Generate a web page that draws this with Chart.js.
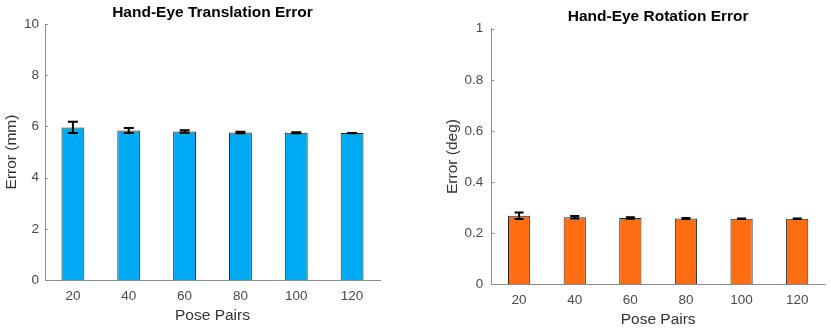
<!DOCTYPE html>
<html>
<head>
<meta charset="utf-8">
<script src="https://cdn.jsdelivr.net/npm/chart.js@4/dist/chart.umd.min.js"></script>
<style>
  html, body { margin: 0; padding: 0; background: #fff; }
  #wrap { position: relative; width: 831px; height: 336px; }
  .box { position: absolute; top: 0; height: 336px; }
</style>
</head>
<body>
<div id="wrap">
  <div class="box" style="left:0;width:415px;"><canvas id="c1" width="415" height="336"></canvas></div>
  <div class="box" style="left:415px;width:416px;"><canvas id="c2" width="416" height="336"></canvas></div>
</div>
<script>
const posePairs = ['20', '40', '60', '80', '100', '120'];
const transMean = [5.96, 5.84, 5.80, 5.76, 5.75, 5.74];
const transErr  = [0.22, 0.10, 0.05, 0.03, 0.02, 0.005];
const rotMean   = [0.268, 0.262, 0.259, 0.257, 0.256, 0.256];
const rotErr    = [0.013, 0.005, 0.003, 0.002, 0.001, 0.001];
const transTicks = [0, 2, 4, 6, 8, 10];
const rotTicks = [0, 0.2, 0.4, 0.6, 0.8, 1];

const FONT = "'Liberation Sans', Arial, sans-serif";
const TICK_COLOR = '#4a4a4a';
const AXIS_COLOR = '#8c8c8c';

const errorBars = {
  id: 'errorBars',
  afterDatasetsDraw(chart, args, opts) {
    const ctx = chart.ctx;
    const meta = chart.getDatasetMeta(0);
    const ys = chart.scales.y;
    const means = chart.data.datasets[0].data;
    const errs = opts.errors || [];
    ctx.save();
    ctx.strokeStyle = '#000';
    ctx.lineWidth = 2;
    meta.data.forEach((bar, i) => {
      const e = errs[i];
      if (e == null) return;
      const x = bar.x;
      const yt = ys.getPixelForValue(means[i] + e);
      const yb = ys.getPixelForValue(means[i] - e);
      const hw = opts.capHalf || 5;
      ctx.beginPath();
      ctx.moveTo(x, yt); ctx.lineTo(x, yb);
      ctx.moveTo(x - hw, yt); ctx.lineTo(x + hw, yt);
      ctx.moveTo(x - hw, yb); ctx.lineTo(x + hw, yb);
      ctx.stroke();
    });
    // small inward tick marks on the y axis (MATLAB style)
    ctx.strokeStyle = AXIS_COLOR;
    ctx.lineWidth = 1;
    ctx.beginPath();
    ys.ticks.forEach(t => {
      const y = Math.round(ys.getPixelForValue(t.value)) + 0.5;
      ctx.moveTo(ys.right, y); ctx.lineTo(ys.right + 3, y);
    });
    ctx.stroke();
    ctx.restore();
  }
};

function makeChart(id, cfg) {
  return new Chart(document.getElementById(id), {
    type: 'bar',
    data: {
      labels: posePairs,
      datasets: [{
        data: cfg.mean,
        backgroundColor: cfg.color,
        borderColor: '#262626',
        borderWidth: 1,
        barPercentage: cfg.barPct,
        categoryPercentage: 1
      }]
    },
    options: {
      responsive: false,
      animation: false,
      layout: { padding: { left: 0, right: cfg.padRight, top: 0, bottom: 0 } },
      plugins: {
        legend: { display: false },
        tooltip: { enabled: false },
        title: {
          display: true,
          text: cfg.title,
          fullSize: false,
          color: '#000',
          font: { family: FONT, size: 15.5, weight: 'bold' },
          padding: { top: cfg.titleTop, bottom: cfg.titleBottom }
        },
        errorBars: { errors: cfg.err, capHalf: cfg.capHalf }
      },
      scales: {
        x: {
          type: 'category',
          offset: true,
          grid: { display: false, drawTicks: false },
          border: { display: true, color: AXIS_COLOR, width: 1 },
          ticks: { color: TICK_COLOR, font: { family: FONT, size: 13.5 }, padding: 8, maxRotation: 0 },
          title: {
            display: true, text: 'Pose Pairs', color: '#333',
            font: { family: FONT, size: 15.5 },
            padding: { top: 0, bottom: cfg.xTitleBottom }
          },
          afterFit(s) { s.height = cfg.xAxisH; }
        },
        y: {
          min: 0, max: cfg.max,
          grid: { display: false, drawTicks: false },
          border: { display: true, color: AXIS_COLOR, width: 1 },
          afterBuildTicks(s) { s.ticks = cfg.ticks.map(v => ({ value: v })); },
          ticks: {
            color: TICK_COLOR, font: { family: FONT, size: 13.5 }, padding: cfg.yTickPad,
            callback: v => String(+Number(v).toFixed(2))
          },
          title: {
            display: true, text: cfg.yTitle, color: '#333',
            font: { family: FONT, size: 15.5 },
            padding: { top: cfg.yTitleTop, bottom: 0 }
          },
          afterFit(s) { s.width = cfg.yAxisW; }
        }
      }
    },
    plugins: [errorBars]
  });
}

makeChart('c1', {
  mean: transMean, err: transErr, color: '#00AAF2', barPct: 0.41,
  title: 'Hand-Eye Translation Error', yTitle: 'Error (mm)',
  max: 10, ticks: transTicks,
  padRight: 35, titleTop: 3.2, titleBottom: 2.2,
  xAxisH: 56, xTitleBottom: 11.4, yAxisW: 45, yTitleTop: 2.4, yTickPad: 6, capHalf: 5
});

makeChart('c2', {
  mean: rotMean, err: rotErr, color: '#FF6D12', barPct: 0.40,
  title: 'Hand-Eye Rotation Error', yTitle: 'Error (deg)',
  max: 1, ticks: rotTicks,
  padRight: 6, titleTop: 7.2, titleBottom: 2.9,
  xAxisH: 51.7, xTitleBottom: 7.1, yAxisW: 76.3, yTitleTop: 28.7, yTickPad: 8, capHalf: 4.5
});
</script>
</body>
</html>
